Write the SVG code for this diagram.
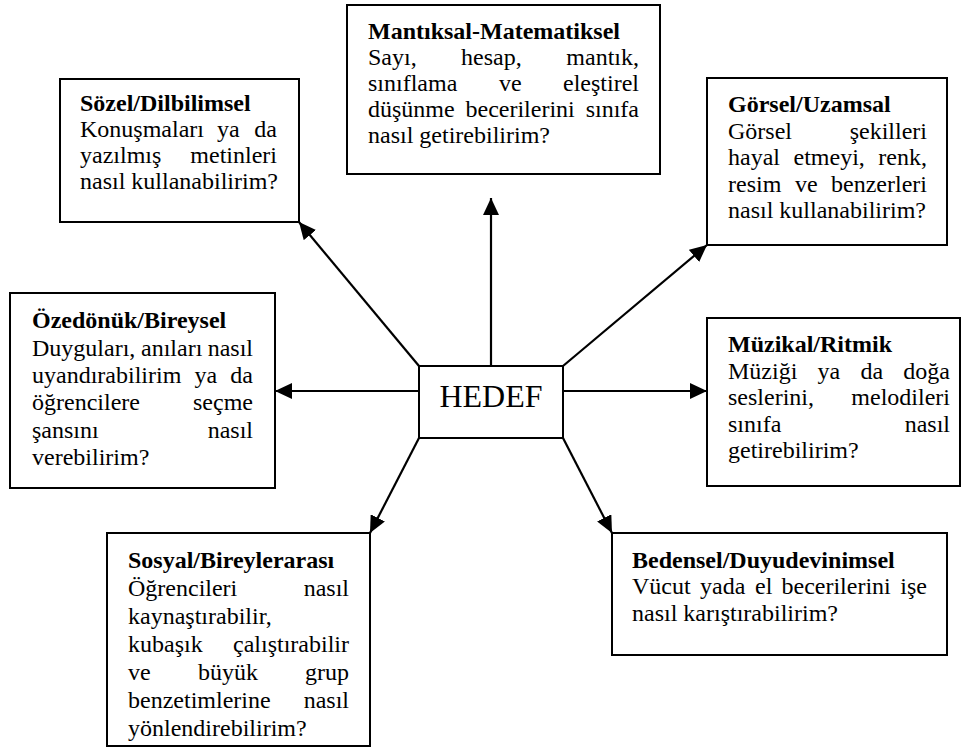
<svg xmlns="http://www.w3.org/2000/svg" width="962" height="749" viewBox="0 0 962 749">
  <style>
    .box { fill: #ffffff; stroke: #000000; stroke-width: 2; }
    .t { font-family: "Liberation Serif", "Times New Roman", serif; font-size: 24px; fill: #000000; }
    .h { font-weight: bold; }
    .e { text-anchor: end; }
    .center { font-family: "Liberation Serif", "Times New Roman", serif; font-size: 32px; fill: #000000; text-anchor: middle; }
    .link { stroke: #000000; stroke-width: 2.2; fill: none; marker-end: url(#arrow); }
  </style>
  <defs>
    <marker id="arrow" markerUnits="userSpaceOnUse" markerWidth="18" markerHeight="16" refX="17" refY="8" orient="auto">
      <path d="M0,0 L17,8 L0,16 Z" fill="#000000"/>
    </marker>
  </defs>
  <rect width="962" height="749" fill="#ffffff"/>

  <!-- connectors from the central goal -->
  <g id="connectors">
    <line class="link" x1="491" y1="366" x2="491" y2="198"/>
    <line class="link" x1="419" y1="366" x2="299" y2="222"/>
    <line class="link" x1="563" y1="366" x2="707" y2="245"/>
    <line class="link" x1="419" y1="391" x2="275" y2="391"/>
    <line class="link" x1="563" y1="391" x2="707" y2="391"/>
    <line class="link" x1="419" y1="438" x2="370" y2="533"/>
    <line class="link" x1="563" y1="438" x2="612" y2="533"/>
  </g>

  <g id="hedef">
    <rect class="box" x="419" y="366" width="144" height="72"/>
    <text class="center" x="491" y="407">HEDEF</text>
  </g>

  <g id="mantiksal">
    <rect class="box" x="347" y="5" width="313" height="169"/>
    <text class="t h" x="368" y="39">Mantıksal-Matematiksel</text>
    <text class="t" x="368" y="65">Sayı,</text>
    <text class="t" x="461" y="65">hesap,</text>
    <text class="t e" x="639" y="65">mantık,</text>
    <text class="t" x="368" y="91">sınıflama</text>
    <text class="t" x="499" y="91">ve</text>
    <text class="t e" x="639" y="91">eleştirel</text>
    <text class="t" x="368" y="117">düşünme</text>
    <text class="t" x="465.5" y="117">becerilerini</text>
    <text class="t e" x="639" y="117">sınıfa</text>
    <text class="t" x="368" y="143">nasıl getirebilirim?</text>
  </g>

  <g id="sozel">
    <rect class="box" x="60" y="79" width="239" height="143"/>
    <text class="t h" x="80" y="111">Sözel/Dilbilimsel</text>
    <text class="t" x="80" y="137">Konuşmaları</text>
    <text class="t" x="217" y="137">ya</text>
    <text class="t e" x="277" y="137">da</text>
    <text class="t" x="80" y="163">yazılmış</text>
    <text class="t e" x="277" y="163">metinleri</text>
    <text class="t" x="80" y="189">nasıl kullanabilirim?</text>
  </g>

  <g id="gorsel">
    <rect class="box" x="707" y="78" width="240" height="167"/>
    <text class="t h" x="728" y="112">Görsel/Uzamsal</text>
    <text class="t" x="728" y="138.5">Görsel</text>
    <text class="t e" x="927" y="138.5">şekilleri</text>
    <text class="t" x="728" y="165">hayal</text>
    <text class="t" x="793.5" y="165">etmeyi,</text>
    <text class="t e" x="927" y="165">renk,</text>
    <text class="t" x="728" y="191.5">resim</text>
    <text class="t" x="795" y="191.5">ve</text>
    <text class="t e" x="927" y="191.5">benzerleri</text>
    <text class="t" x="728" y="218">nasıl kullanabilirim?</text>
  </g>

  <g id="ozedonuk">
    <rect class="box" x="10" y="293" width="265" height="195"/>
    <text class="t h" x="32" y="328">Özedönük/Bireysel</text>
    <text class="t" x="32" y="355.5">Duyguları,</text>
    <text class="t" x="141" y="355.5">anıları</text>
    <text class="t e" x="253" y="355.5">nasıl</text>
    <text class="t" x="32" y="383">uyandırabilirim</text>
    <text class="t" x="194.5" y="383">ya</text>
    <text class="t e" x="253" y="383">da</text>
    <text class="t" x="32" y="410">öğrencilere</text>
    <text class="t e" x="253" y="410">seçme</text>
    <text class="t" x="32" y="437.5">şansını</text>
    <text class="t e" x="253" y="437.5">nasıl</text>
    <text class="t" x="32" y="465">verebilirim?</text>
  </g>

  <g id="muzikal">
    <rect class="box" x="707" y="318" width="253" height="168"/>
    <text class="t h" x="728" y="352">Müzikal/Ritmik</text>
    <text class="t" x="728" y="378.5">Müziği</text>
    <text class="t" x="817.5" y="378.5">ya</text>
    <text class="t" x="860.4" y="378.5">da</text>
    <text class="t e" x="950" y="378.5">doğa</text>
    <text class="t" x="728" y="405">seslerini,</text>
    <text class="t e" x="950" y="405">melodileri</text>
    <text class="t" x="728" y="431.5">sınıfa</text>
    <text class="t e" x="950" y="431.5">nasıl</text>
    <text class="t" x="728" y="458">getirebilirim?</text>
  </g>

  <g id="sosyal">
    <rect class="box" x="107" y="533" width="263" height="213"/>
    <text class="t h" x="128" y="568">Sosyal/Bireylerarası</text>
    <text class="t" x="128" y="596">Öğrencileri</text>
    <text class="t e" x="349" y="596">nasıl</text>
    <text class="t" x="128" y="624">kaynaştırabilir,</text>
    <text class="t" x="128" y="652">kubaşık</text>
    <text class="t e" x="349" y="652">çalıştırabilir</text>
    <text class="t" x="128" y="680">ve</text>
    <text class="t" x="198" y="680">büyük</text>
    <text class="t e" x="349" y="680">grup</text>
    <text class="t" x="128" y="708">benzetimlerine</text>
    <text class="t e" x="349" y="708">nasıl</text>
    <text class="t" x="128" y="736">yönlendirebilirim?</text>
  </g>

  <g id="bedensel">
    <rect class="box" x="612" y="533" width="335" height="122"/>
    <text class="t h" x="632" y="567.5">Bedensel/Duyudevinimsel</text>
    <text class="t" x="632" y="594">Vücut</text>
    <text class="t" x="700" y="594">yada</text>
    <text class="t" x="755" y="594">el</text>
    <text class="t" x="781.5" y="594">becerilerini</text>
    <text class="t e" x="927" y="594">işe</text>
    <text class="t" x="632" y="620.5">nasıl karıştırabilirim?</text>
  </g>
</svg>
